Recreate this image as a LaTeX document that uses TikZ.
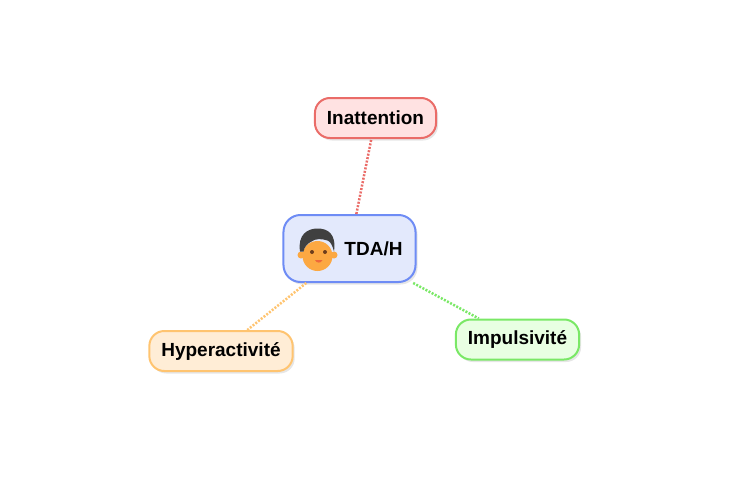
\documentclass[tikz,border=0pt]{standalone}
\usepackage{fontspec}
\setmainfont{Liberation Sans}
\usetikzlibrary{shadows}
\definecolor{Lblue}{RGB}{110,140,245}
\definecolor{Fblue}{RGB}{227,233,252}
\definecolor{Lred}{RGB}{234,108,104}
\definecolor{Fred}{RGB}{255,226,226}
\definecolor{Lorange}{RGB}{255,196,112}
\definecolor{Forange}{RGB}{255,237,214}
\definecolor{Lgreen}{RGB}{122,232,102}
\definecolor{Fgreen}{RGB}{232,255,226}
\definecolor{skin}{RGB}{252,168,66}
\definecolor{hair}{RGB}{64,64,64}
\definecolor{eye}{RGB}{110,62,28}
\definecolor{lip}{RGB}{238,104,58}
\tikzset{
  box/.style={draw=L#1, fill=F#1, line width=2pt, font=\bfseries\fontsize{19}{22}\selectfont,
    drop shadow={opacity=0.2, shadow xshift=2pt, shadow yshift=-2.5pt}},
  leaf/.style={box=#1, rounded corners=15pt, minimum height=40pt, inner xsep=12pt},
  hub/.style={box=blue, rounded corners=17pt, minimum height=67pt, inner xsep=13pt},
  branch/.style={draw=L#1, line width=2.5pt, dash pattern=on 2pt off 1.5pt}
}
\begin{document}
\begin{tikzpicture}[x=1pt, y=-1pt]
  \useasboundingbox (0,0) rectangle (734,501);
  \node[hub] (tda) at (349.5,248.5) {\hspace*{48pt}TDA/H};
  \begin{scope}[shift={(tda.center)}]
    % face
    \fill[skin] (-48.5,6.5) circle (3.5) (-15.5,6.5) circle (3.5);
    \fill[skin] (-32,7.5) circle (15);
    \fill[hair] (-49.5,3) .. controls (-52,-14) and (-42,-20) .. (-32,-20)
      .. controls (-22,-20) and (-13,-15) .. (-15.5,3)
      .. controls (-17,-3) and (-19,-7) .. (-22,-8)
      .. controls (-28,-10) and (-34,-10) .. (-38,-7)
      .. controls (-42,-5) and (-45,-2) .. (-46,3) -- cycle;
    \fill[eye] (-37.5,3.5) circle (2) (-24.5,3.5) circle (2);
    \fill[lip] (-34.5,11.5) .. controls (-33,15) and (-28.5,15) .. (-27,11.5) -- cycle;
  \end{scope}
  \foreach \name/\txt/\pos/\col in {
    inatt/Inattention/{375.5,118}/red,
    hyper/Hyperactivité/{221,351}/orange,
    impul/Impulsivité/{517.5,339.5}/green} {
    \node[leaf=\col] (\name) at (\pos) {\txt};
    \draw[branch=\col] (tda) -- (\name);
  }
\end{tikzpicture}
\end{document}
